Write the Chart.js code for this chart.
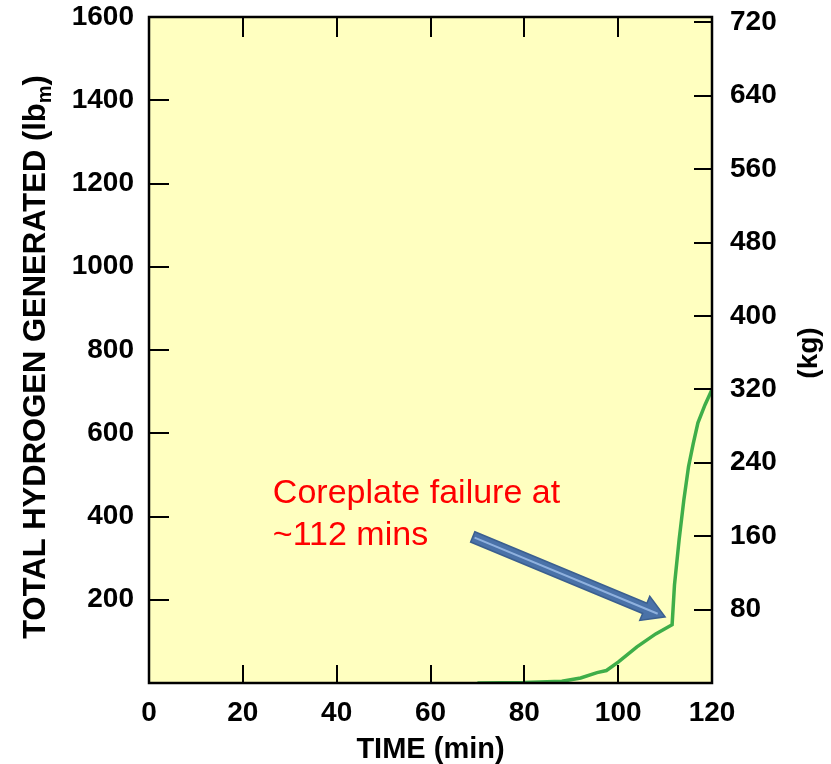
<!DOCTYPE html>
<html>
<head>
<meta charset="utf-8">
<script src="https://cdn.jsdelivr.net/npm/chart.js@4.4.1/dist/chart.umd.min.js"></script>
<style>
html, body { margin: 0; padding: 0; background: #fff; }
</style>
</head>
<body>
<canvas id="grafico" width="831" height="764"></canvas>
<script>
//tempo (min)
var tempo = [70, 80, 88, 92, 95.5, 97.5, 100, 104, 108, 111.5, 112, 113, 114, 115, 116, 117, 118.5, 120];
//idrogeno totale generato (lbm)
var idrogeno = [0, 1, 4, 12, 25, 30, 50, 87, 118, 140, 235, 345, 440, 520, 575, 625, 668, 705];

//tick assi
var tickTempo = [0, 20, 40, 60, 80, 100, 120];
var tickLbm = [200, 400, 600, 800, 1000, 1200, 1400, 1600];
var tickKg = [80, 160, 240, 320, 400, 480, 560, 640, 720];

const LB_KG = 0.45359237;
const FONT = "'Liberation Sans', Arial, Helvetica, sans-serif";

//nota e freccia (coordinate in min / lbm)
const notaTesto = ["Coreplate failure at", "~112 mins"];
const notaX = 26.4, notaY1 = 433, notaY2 = 332;
const frecciaDa = [69, 351], frecciaA = [110, 159];

const cornice = {
  id: 'cornice',
  beforeDraw(chart) {
    const ctx = chart.ctx, a = chart.chartArea;
    ctx.save();
    ctx.fillStyle = '#ffffc0';
    ctx.fillRect(a.left, a.top, a.right - a.left, a.bottom - a.top);
    ctx.restore();
  },
  afterDatasetsDraw(chart) {
    const ctx = chart.ctx, a = chart.chartArea;
    const sx = chart.scales.x, sy = chart.scales.y, sk = chart.scales.y2;
    ctx.save();

    //tacche interne
    ctx.strokeStyle = '#000';
    ctx.lineWidth = 2;
    ctx.beginPath();
    tickTempo.forEach(v => {
      const px = Math.round(sx.getPixelForValue(v));
      ctx.moveTo(px, a.bottom); ctx.lineTo(px, a.bottom - 18);
      ctx.moveTo(px, a.top); ctx.lineTo(px, a.top + 20);
    });
    tickLbm.forEach(v => {
      const py = Math.round(sy.getPixelForValue(v));
      ctx.moveTo(a.left, py); ctx.lineTo(a.left + 20, py);
    });
    tickKg.forEach(v => {
      const py = Math.round(sk.getPixelForValue(v));
      ctx.moveTo(a.right, py); ctx.lineTo(a.right - 18, py);
    });
    ctx.stroke();

    //bordo
    ctx.lineWidth = 2.5;
    ctx.strokeRect(a.left, a.top, a.right - a.left, a.bottom - a.top);

    //freccia
    const x0 = sx.getPixelForValue(frecciaDa[0]), y0 = sy.getPixelForValue(frecciaDa[1]);
    const x1 = sx.getPixelForValue(frecciaA[0]), y1 = sy.getPixelForValue(frecciaA[1]);
    const ang = Math.atan2(y1 - y0, x1 - x0);
    const len = Math.hypot(x1 - x0, y1 - y0);
    const hl = 22, hw = 13, sw = 5.5;
    ctx.translate(x0, y0);
    ctx.rotate(ang);
    ctx.beginPath();
    ctx.moveTo(0, -sw);
    ctx.lineTo(len - hl, -sw);
    ctx.lineTo(len - hl, -hw);
    ctx.lineTo(len, 0);
    ctx.lineTo(len - hl, hw);
    ctx.lineTo(len - hl, sw);
    ctx.lineTo(0, sw);
    ctx.closePath();
    ctx.fillStyle = '#4a72a8';
    ctx.fill();
    ctx.strokeStyle = '#3b5f8f';
    ctx.lineWidth = 1.5;
    ctx.stroke();
    ctx.beginPath();
    ctx.moveTo(2, 0);
    ctx.lineTo(len - 8, 0);
    ctx.strokeStyle = '#8fb1de';
    ctx.lineWidth = 2;
    ctx.stroke();
    ctx.setTransform(1, 0, 0, 1, 0, 0);

    //nota
    ctx.fillStyle = '#ff0000';
    ctx.font = '34px ' + FONT;
    ctx.textAlign = 'left';
    ctx.textBaseline = 'alphabetic';
    ctx.fillText(notaTesto[0], sx.getPixelForValue(notaX), sy.getPixelForValue(notaY1));
    ctx.fillText(notaTesto[1], sx.getPixelForValue(notaX), sy.getPixelForValue(notaY2));

    //titoli assi
    ctx.fillStyle = '#000';
    ctx.font = 'bold 29px ' + FONT;
    ctx.textAlign = 'center';
    ctx.fillText('TIME (min)', (a.left + a.right) / 2, 758);

    ctx.save();
    ctx.font = 'bold 28px ' + FONT;
    ctx.translate(809, (a.top + a.bottom) / 2 + 3);
    ctx.rotate(-Math.PI / 2);
    ctx.textBaseline = 'middle';
    ctx.fillText('(kg)', 0, 0);
    ctx.restore();

    //titolo sinistro con pedice
    const t1 = 'TOTAL HYDROGEN GENERATED (lb', t2 = 'm', t3 = ')';
    const fBig = 'bold 31px ' + FONT, fSub = 'bold 20px ' + FONT;
    ctx.font = fBig; const w1 = ctx.measureText(t1).width, w3 = ctx.measureText(t3).width;
    ctx.font = fSub; const w2 = ctx.measureText(t2).width;
    const tot = w1 + w2 + w3;
    ctx.save();
    ctx.translate(45, (a.top + a.bottom) / 2 + 7);
    ctx.rotate(-Math.PI / 2);
    ctx.textAlign = 'left';
    ctx.textBaseline = 'alphabetic';
    ctx.font = fBig; ctx.fillText(t1, -tot / 2, 0);
    ctx.font = fSub; ctx.fillText(t2, -tot / 2 + w1, 6);
    ctx.font = fBig; ctx.fillText(t3, -tot / 2 + w1 + w2, 0);
    ctx.restore();

    ctx.restore();
  }
};

const tickFont = { family: FONT, size: 28, weight: 'bold' };
const senzaVirgole = v => String(v);
//larghezza fissa degli assi verticali, senza margini extra per le etichette
const fissaY = w => s => { s.width = w; s.paddingTop = 0; s.paddingBottom = 0; };

new Chart(document.getElementById('grafico'), {
  type: 'line',
  data: {
    datasets: [{
      data: tempo.map((t, i) => ({ x: t, y: idrogeno[i] })),
      borderColor: '#3fae49',
      borderWidth: 3.5,
      pointRadius: 0,
      tension: 0,
      fill: false,
      yAxisID: 'y'
    }]
  },
  options: {
    responsive: false,
    animation: false,
    layout: { padding: { top: 17, left: 0, right: 0, bottom: 0 } },
    plugins: { legend: { display: false }, tooltip: { enabled: false } },
    scales: {
      x: {
        type: 'linear', min: 0, max: 120,
        afterBuildTicks: s => { s.ticks = tickTempo.map(v => ({ value: v })); },
        afterFit: s => { s.height = 81; s.paddingLeft = 0; s.paddingRight = 0; },
        grid: { display: false, drawTicks: false },
        border: { display: false },
        ticks: { font: tickFont, color: '#000', padding: 13, maxRotation: 0, autoSkip: false, callback: senzaVirgole }
      },
      y: {
        position: 'left', min: 0, max: 1600,
        afterBuildTicks: s => { s.ticks = tickLbm.map(v => ({ value: v })); },
        afterFit: fissaY(149),
        grid: { display: false, drawTicks: false },
        border: { display: false },
        ticks: { font: tickFont, color: '#000', padding: 15, autoSkip: false, callback: senzaVirgole }
      },
      y2: {
        position: 'right', min: 0, max: 1600 * LB_KG,
        afterBuildTicks: s => { s.ticks = tickKg.map(v => ({ value: v })); },
        afterFit: fissaY(119),
        grid: { display: false, drawTicks: false },
        border: { display: false },
        ticks: { font: tickFont, color: '#000', padding: 18, autoSkip: false, callback: senzaVirgole }
      }
    }
  },
  plugins: [cornice]
});
</script>
</body>
</html>
